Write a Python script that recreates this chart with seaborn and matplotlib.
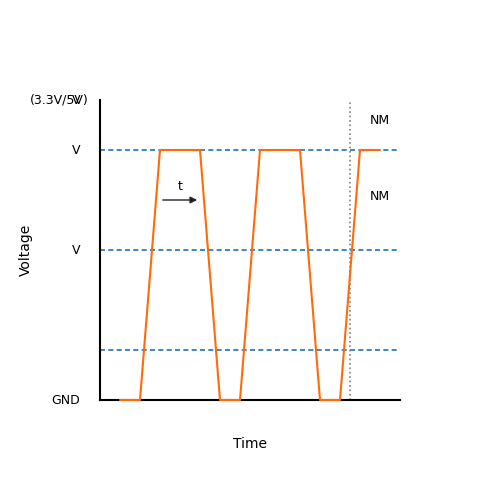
import matplotlib
matplotlib.use("Agg")
import matplotlib.pyplot as plt
import seaborn as sns
import pandas as pd

sns.set_style("white")
plt.rcParams['font.family'] = ['DejaVu Sans']
plt.rcParams['text.color'] = 'black'
plt.rcParams['axes.labelcolor'] = 'black'

time = [1, 2, 3, 5, 6, 7, 8, 10, 11, 12, 13, 14]
voltage = [0, 0, 5, 5, 0, 0, 5, 5, 0, 0, 5, 5]
levels = [1, 3, 5]
level_labels = [(0, "GND"), (3, "V"), (5, "V"), (6, "V")]

df = pd.DataFrame({"Time": time, "Voltage": voltage})

fig = plt.figure(figsize=(5, 5), dpi=100)
ax = fig.add_axes([0.2, 0.2, 0.6, 0.6])

for lv in levels:
    ax.axhline(lv, color="#1f6fbf", linestyle="--", linewidth=1.2, dashes=(3, 2))
ax.plot([12.5, 12.5], [0, 6], color="gray", linestyle=":", linewidth=1.2)

sns.lineplot(data=df, x="Time", y="Voltage", ax=ax, color="#ff6a0a",
             linewidth=1.5, zorder=5, clip_on=False)

ax.set_xlim(0, 15)
ax.set_ylim(0, 6)
ax.set_xticks([])
ax.set_yticks([])
for side in ["top", "right"]:
    ax.spines[side].set_visible(False)
for side in ["left", "bottom"]:
    ax.spines[side].set_color("black")
    ax.spines[side].set_linewidth(1.5)
    ax.spines[side].set_zorder(2)

for y, lab in level_labels:
    ax.text(-1.0, y, lab, ha="right", va="center", fontsize=9)
ax.text(-0.55, 6, "(3.3V/5V)", ha="right", va="center", fontsize=9)

ax.text(14, 5.58, "NM", ha="center", va="center", fontsize=9)
ax.text(14, 4.08, "NM", ha="center", va="center", fontsize=9)
ax.text(4, 4.28, "t", ha="center", va="center", fontsize=9)
ax.annotate("", xy=(5, 4), xytext=(3, 4),
            arrowprops=dict(arrowstyle="-|>", color="#222222", lw=1.0))

ax.set_xlabel("Time", fontsize=10, labelpad=27)
ax.set_ylabel("Voltage", fontsize=10, labelpad=48)

fig.savefig("out.png", dpi=100)
